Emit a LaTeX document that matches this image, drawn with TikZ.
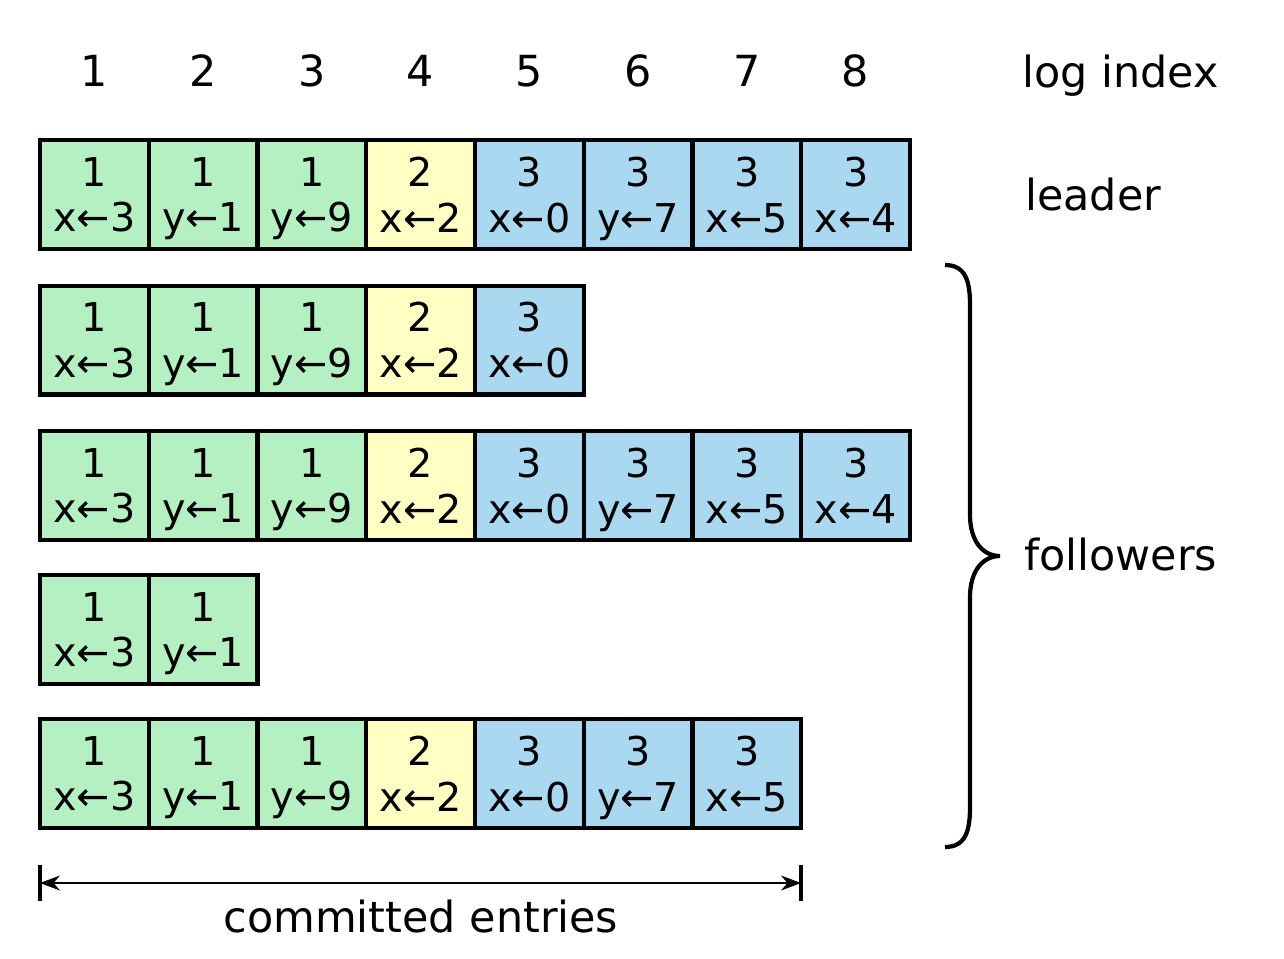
\documentclass[tikz,border=0pt]{standalone}
\usepackage{fontspec}
\setmainfont{DejaVu Sans}
\usetikzlibrary{positioning, arrows.meta}

\definecolor{termone}{RGB}{180,240,194}
\definecolor{termtwo}{RGB}{255,255,196}
\definecolor{termthree}{RGB}{170,216,240}

\begin{document}
\begin{tikzpicture}[
  x=0.02cm, y=-0.02cm,
  font=\fontsize{24.4}{29}\selectfont,
  cell/.style={draw, line width=2.3pt, minimum width=2.175cm, minimum height=2.18cm,
               inner sep=0pt, outer sep=0pt, align=center,
               font=\fontsize{22.6}{26}\selectfont},
  lbl/.style={anchor=base west},
  arr/.style={{Stealth[length=4mm,width=3mm]}-{Stealth[length=4mm,width=3mm]}, line width=1.1pt},
  endbar/.style={line width=2.6pt},
]
\useasboundingbox (0,0) rectangle (1284,958);

% --- log index header ---
\foreach \i in {1,...,8}
  \node[anchor=base] (idx-\i) at ({40+108.75*(\i-0.5)},86) {\i};
\node[lbl] (idxlbl) at (1016,87) {log index};

% --- leader and follower logs (row name / centre y / length) ---
\foreach \r/\y/\n in {leader/194.5/8, fa/340/5, fb/485.5/8, fc/629.5/2, fd/773.5/7} {
  \foreach \t/\c/\col [count=\i] in {1/x←3/termone, 1/y←1/termone, 1/y←9/termone,
      2/x←2/termtwo, 3/x←0/termthree, 3/y←7/termthree, 3/x←5/termthree, 3/x←4/termthree} {
    \ifnum\i>\n\relax\else
      \node[cell, fill=\col] (\r-\i) at ({40+108.75*(\i-0.5)},\y) {\t\\\smash{\c}};
    \fi
  }
}
\node[lbl] (leaderlbl) at (1019,210) {leader};

% brace grouping the followers
\coordinate (brtop) at (945,265);
\coordinate (brtip) at (1000,556);
\coordinate (brbot) at (945,847);
\draw[line width=2.4pt]
  (brtop) .. controls (966,265) and (970,282) .. (970,305) -- (970,515)
  .. controls (970,540) and (982,556) .. (brtip)
  .. controls (982,556) and (970,572) .. (970,597) -- (970,807)
  .. controls (970,830) and (966,847) .. (brbot);
\node[lbl] (follbl) at (1018,570) {followers};

% --- committed entries ---
\coordinate (cl) at (40,883);
\coordinate (cr) at (801,883);
\draw[arr] (cl) -- (cr);
\draw[endbar] ([yshift=0.36cm]cl) -- ([yshift=-0.36cm]cl);
\draw[endbar] ([yshift=0.36cm]cr) -- ([yshift=-0.36cm]cr);
\node[anchor=base] (comlbl) at (421,932) {committed entries};

\end{tikzpicture}
\end{document}
